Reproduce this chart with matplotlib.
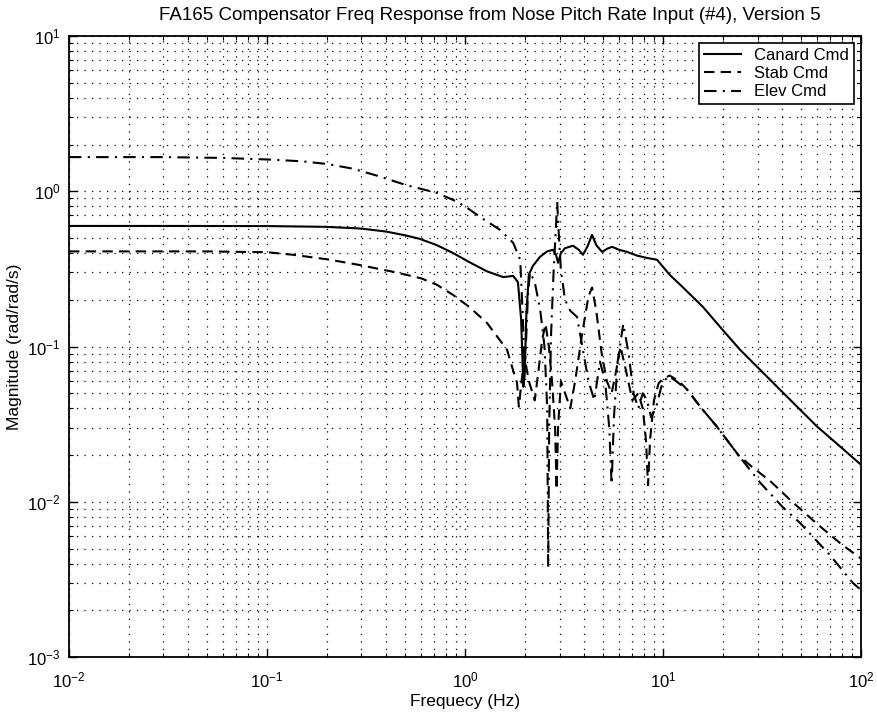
import matplotlib
matplotlib.use("Agg")
import matplotlib.pyplot as plt
import numpy as np

# Canard Cmd (solid)
freq_canard = [0.01, 0.03, 0.1, 0.2, 0.3, 0.4, 0.5, 0.59, 0.72, 0.87, 1.05, 1.29, 1.56, 1.75,
               1.85, 1.92, 1.97, 2.0, 2.04, 2.1, 2.2, 2.39, 2.6, 2.78, 2.88, 2.95, 3.05, 3.2,
               3.51, 3.75, 3.94, 4.15, 4.38, 4.6, 4.92, 5.2, 5.52, 6.0, 6.58, 7.4, 8.3, 9.33,
               10.8, 12.5, 15.9, 20, 24.5, 30.9, 42.3, 60, 80, 100]
mag_canard = [0.598, 0.598, 0.597, 0.59, 0.575, 0.55, 0.52, 0.494, 0.45, 0.40, 0.35, 0.305, 0.28, 0.285,
              0.26, 0.15, 0.055, 0.065, 0.16, 0.29, 0.33, 0.378, 0.41, 0.42, 0.39, 0.346, 0.40, 0.43,
              0.446, 0.42, 0.39, 0.44, 0.524, 0.45, 0.407, 0.425, 0.439, 0.42, 0.407, 0.385, 0.372, 0.362,
              0.29, 0.243, 0.18, 0.128, 0.0953, 0.0709, 0.0475, 0.0305, 0.0222, 0.0173]

# Stab Cmd (dashed)
freq_stab = [0.01, 0.05, 0.1, 0.135, 0.2, 0.29, 0.45, 0.6, 0.72, 0.87, 1.05, 1.29, 1.63, 1.75, 1.83,
             1.87, 1.93, 2.0, 2.1, 2.25, 2.35, 2.45, 2.55, 2.65, 2.75, 2.85, 2.9, 2.95, 3.05,
             3.2, 3.4, 3.6, 3.9, 4.2, 4.38, 4.6, 4.9, 5.2, 5.5, 5.8, 6.1, 6.5, 7.0, 7.5, 7.9,
             8.2, 8.4, 8.6, 9.0, 9.5, 10.0, 10.8, 12, 13.2, 15.4, 18.7, 24, 27.5, 35, 43.8,
             60, 80, 91, 100]
mag_stab = [0.41, 0.41, 0.405, 0.39, 0.365, 0.336, 0.30, 0.275, 0.25, 0.215, 0.18, 0.142, 0.0954, 0.07, 0.0585,
            0.041, 0.06, 0.085, 0.06, 0.045, 0.07, 0.11, 0.14, 0.10, 0.06, 0.03, 0.012, 0.03, 0.06,
            0.05, 0.04, 0.06, 0.12, 0.21, 0.24, 0.17, 0.09, 0.06, 0.05, 0.07, 0.10, 0.07, 0.045, 0.05, 0.04,
            0.025, 0.0128, 0.025, 0.045, 0.058, 0.062, 0.065, 0.06, 0.053, 0.041, 0.0305, 0.02, 0.0172, 0.0135, 0.0103,
            0.0072, 0.0053, 0.0047, 0.0043]

# Elev Cmd (dash-dot)
freq_elev = [0.01, 0.03, 0.06, 0.1035, 0.15, 0.2, 0.27, 0.36, 0.5, 0.72, 0.87, 1.0, 1.19, 1.5, 1.75, 1.9,
             1.96, 2.0, 2.04, 2.08, 2.13, 2.25, 2.4, 2.52, 2.6, 2.63, 2.66, 2.72, 2.8, 2.87,
             2.92, 2.97, 3.05, 3.2, 3.4, 3.68, 3.94, 4.2, 4.5, 4.8, 5.1, 5.35, 5.5, 5.65,
             5.9, 6.3, 6.7, 7.1, 7.5, 7.9, 8.3, 8.7, 9.2, 9.8, 10.5, 11.2, 13.2, 15.4, 18.7,
             24, 30.9, 40, 49.2, 70, 91, 100]
mag_elev = [1.66, 1.66, 1.64, 1.6, 1.56, 1.5, 1.4, 1.26, 1.10, 0.977, 0.88, 0.80, 0.684, 0.565, 0.466, 0.362,
            0.15, 0.07, 0.12, 0.22, 0.30, 0.26, 0.17, 0.10, 0.04, 0.0038, 0.03, 0.12, 0.30, 0.55,
            0.86, 0.55, 0.31, 0.20, 0.17, 0.155, 0.095, 0.06, 0.045, 0.08, 0.06, 0.03, 0.013, 0.035,
            0.08, 0.14, 0.09, 0.05, 0.04, 0.05, 0.045, 0.035, 0.04, 0.055, 0.064, 0.062, 0.053, 0.041, 0.0305,
            0.02, 0.0133, 0.0093, 0.0073, 0.0045, 0.0030, 0.0027]

plt.rcParams['font.family'] = ['Liberation Sans', 'DejaVu Sans']

fig = plt.figure(figsize=(8.77, 7.15), dpi=100, facecolor='white')
ax = fig.add_axes([0.0787, 0.0811, 0.9031, 0.8685])

ax.loglog(freq_canard, mag_canard, color='black', linewidth=1.5, label='Canard Cmd')
ax.loglog(freq_stab, mag_stab, color='black', linewidth=1.5, dashes=[5, 3], label='Stab Cmd')
ax.loglog(freq_elev, mag_elev, color='black', linewidth=1.5, dashes=[6, 3, 1, 3], label='Elev Cmd')

ax.set_xlim(1e-2, 1e2)
ax.set_ylim(1e-3, 1e1)

ax.grid(True, which='both', color='black', linestyle=(0, (1, 5)), linewidth=0.9)
ax.tick_params(which='both', direction='in', top=True, right=True, labelsize=12)
ax.tick_params(axis='x', which='major', pad=10)
ax.tick_params(axis='y', which='major', pad=6)
ax.tick_params(which='major', length=6, width=1)
ax.tick_params(which='minor', length=3, width=0.8)
for s in ax.spines.values():
    s.set_linewidth(1.3)

ax.set_xlabel('Frequecy (Hz)', fontsize=12.5, labelpad=2)
ax.set_ylabel('Magnitude (rad/rad/s)', fontsize=12.5)
fig.text(0.5587, 0.979, 'FA165 Compensator Freq Response from Nose Pitch Rate Input (#4), Version 5',
         ha='center', va='center', fontsize=13.5)

leg = ax.legend(loc='upper right', fontsize=12, fancybox=False, edgecolor='black', framealpha=1,
                handlelength=2.2, borderaxespad=0.4, labelspacing=0.2, borderpad=0.3)
leg.get_frame().set_linewidth(1.2)

fig.savefig('out.png', dpi=100, facecolor='white')
